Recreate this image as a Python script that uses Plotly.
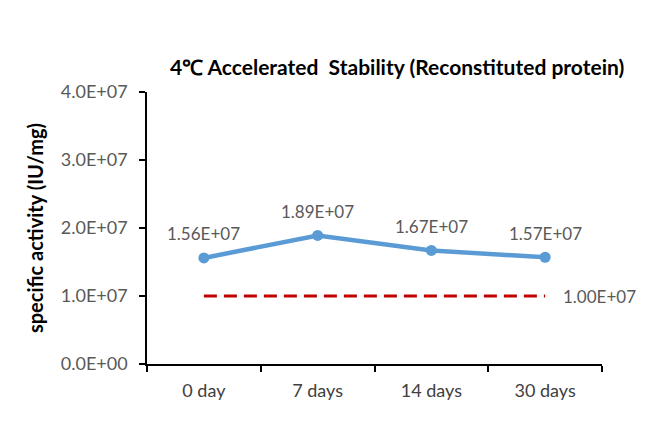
import plotly.graph_objects as go

categories = ["0 day", "7 days", "14 days", "30 days"]
activity = [1.56e7, 1.89e7, 1.67e7, 1.57e7]
activity_labels = ["1.56E+07", "1.89E+07", "1.67E+07", "1.57E+07"]
threshold = [1.0e7, 1.0e7, 1.0e7, 1.0e7]
threshold_label = "1.00E+07"
y_ticks = [0, 1e7, 2e7, 3e7, 4e7]
y_tick_labels = ["0.0E+00", "1.0E+07", "2.0E+07", "3.0E+07", "4.0E+07"]

FONT = "Lato, Open Sans, sans-serif"
GRAY = "#595959"

fig = go.Figure()
fig.add_trace(go.Scatter(
    x=categories, y=threshold, mode="lines",
    line=dict(color="#C00000", width=3, dash="13px,7px"),
    showlegend=False, hoverinfo="skip",
))
fig.add_trace(go.Scatter(
    x=categories, y=activity, mode="lines+markers",
    line=dict(color="#5B9BD5", width=4.5),
    marker=dict(color="#5B9BD5", size=11),
    cliponaxis=False, showlegend=False,
))

annotations = []
for c, v, t in zip(categories, activity, activity_labels):
    annotations.append(dict(
        x=c, y=v, text=t, showarrow=False, yshift=24,
        font=dict(family=FONT, size=17, color=GRAY),
    ))
annotations.append(dict(
    x=categories[-1], y=threshold[-1], text=threshold_label, showarrow=False,
    xanchor="left", xshift=16,
    font=dict(family=FONT, size=17, color=GRAY),
))

fig.update_layout(
    width=664, height=428,
    margin=dict(l=139, r=70, t=84, b=72),
    paper_bgcolor="white", plot_bgcolor="white",
    font=dict(family=FONT, size=16, color=GRAY),
    annotations=annotations,
    title=dict(
        text="<b>4℃ Accelerated  Stability (Reconstituted protein)</b>",
        x=0.586, xanchor="center", y=0.86, yanchor="middle",
        font=dict(family=FONT, size=21, color="black"),
    ),
    xaxis=dict(
        type="category", range=[-0.5, 3.5], tickson="boundaries",
        ticks="outside", ticklen=6, tickcolor="black", tickwidth=1.5,
        showline=True, linecolor="black", linewidth=1.5,
        showgrid=False, zeroline=False, ticklabelstandoff=10,
        tickfont=dict(family=FONT, size=18, color="#404040"),
    ),
    yaxis=dict(
        range=[0, 4e7], tickvals=y_ticks, ticktext=y_tick_labels,
        ticks="outside", ticklen=6, tickcolor="black", tickwidth=1.5,
        showline=True, linecolor="black", linewidth=1.5,
        showgrid=False, zeroline=False, ticklabelstandoff=8,
        tickfont=dict(family=FONT, size=18, color=GRAY),
        title=dict(text="<b>specific activity (IU/mg)</b>", standoff=12,
                   font=dict(family=FONT, size=20, color="black")),
    ),
)

fig.write_html("out.html")
